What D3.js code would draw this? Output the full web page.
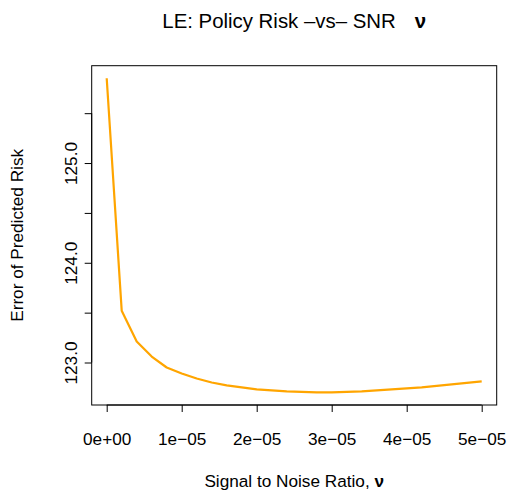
<!DOCTYPE html>
<html><head><meta charset="utf-8">
<script src="https://cdn.jsdelivr.net/npm/d3@7"></script>
<style>body{margin:0;background:#fff}svg{display:block}text{font-family:"Liberation Sans",Arial,sans-serif;fill:#000}</style>
</head><body>
<script>
const snr = [0,2e-6,4e-6,6e-6,8e-6,1e-5,1.2e-5,1.4e-5,1.6e-5,1.8e-5,2e-5,2.2e-5,2.4e-5,2.6e-5,2.8e-5,3e-5,3.2e-5,3.4e-5,3.6e-5,3.8e-5,4e-5,4.2e-5,4.4e-5,4.6e-5,4.8e-5,5e-5];
const risk = [125.85,123.52,123.21,123.06,122.95,122.89,122.84,122.80,122.77,122.75,122.73,122.72,122.71,122.705,122.70,122.70,122.705,122.71,122.72,122.73,122.74,122.75,122.765,122.78,122.795,122.81];
const xTicks = [0,1e-5,2e-5,3e-5,4e-5,5e-5];
const xTickLabels = ["0e+00","1e\u221205","2e\u221205","3e\u221205","4e\u221205","5e\u221205"];
const yTicks = [123,123.5,124,124.5,125,125.5];
const yTickLabels = ["123.0","","124.0","","125.0",""];
const title = "LE: Policy Risk \u2013vs\u2013 SNR";
const xTitle = "Signal to Noise Ratio, ";
const yTitle = "Error of Predicted Risk";

const W=510,H=499;
const L=91.7,R=496.7,T=65.7,B=405;
const FS="17.2px";
const svg=d3.select("body").append("svg").attr("width",W).attr("height",H);
const xr=[d3.min(snr),d3.max(snr)], yr=[d3.min(risk),d3.max(risk)];
const xp=(xr[1]-xr[0])*0.04, yp=(yr[1]-yr[0])*0.04;
const x=d3.scaleLinear().domain([xr[0]-xp,xr[1]+xp]).range([L,R]);
const y=d3.scaleLinear().domain([yr[0]-yp,yr[1]+yp]).range([B,T]);

svg.append("rect").attr("x",L).attr("y",T).attr("width",R-L).attr("height",B-T).attr("fill","none").attr("stroke","#000").attr("stroke-width",1);

const xa=svg.append("g").attr("transform",`translate(0,${B})`)
 .call(d3.axisBottom(x).tickValues(xTicks).tickSize(7).tickPadding(0).tickFormat((d,i)=>xTickLabels[i]));
xa.select(".domain").attr("d",`M${x(xTicks[0])},0H${x(xTicks[xTicks.length-1])}`);
xa.selectAll("text").attr("y",39.5).attr("dy",null).style("font-size",FS).style("font-family","'Liberation Sans',Arial,sans-serif").attr("fill","#000");

const ya=svg.append("g").attr("transform",`translate(${L},0)`)
 .call(d3.axisLeft(y).tickValues(yTicks).tickSize(7).tickFormat((d,i)=>yTickLabels[i]));
ya.select(".domain").attr("d",`M0,${y(yTicks[0])}V${y(yTicks[yTicks.length-1])}`);
ya.selectAll(".tick text").attr("x",null).attr("dy",null).attr("y",null)
 .attr("transform","translate(-15,0) rotate(-90)").attr("text-anchor","middle")
 .style("font-size",FS).style("font-family","'Liberation Sans',Arial,sans-serif").attr("fill","#000");
svg.selectAll(".tick line, .domain").attr("stroke","#000");

svg.append("path").datum(snr.map((d,i)=>[d,risk[i]]))
 .attr("fill","none").attr("stroke","#FFA500").attr("stroke-width",2.2).attr("stroke-linejoin","round")
 .attr("d",d3.line().x(d=>x(d[0])).y(d=>y(d[1])));

const cx=(L+R)/2;
const t=svg.append("text").attr("x",cx).attr("y",27.7).attr("text-anchor","middle").style("font-size","20.4px");
t.append("tspan").text(title);
t.append("tspan").attr("dx",19).style("font-weight","bold").text("\u03bd");

const xt=svg.append("text").attr("x",cx).attr("y",487).attr("text-anchor","middle").style("font-size",FS);
xt.append("tspan").text(xTitle);
xt.append("tspan").style("font-weight","bold").text("\u03bd");

svg.append("text").attr("transform",`translate(22.5,${(T+B)/2}) rotate(-90)`).attr("text-anchor","middle").style("font-size",FS).text(yTitle);
</script>
</body></html>
